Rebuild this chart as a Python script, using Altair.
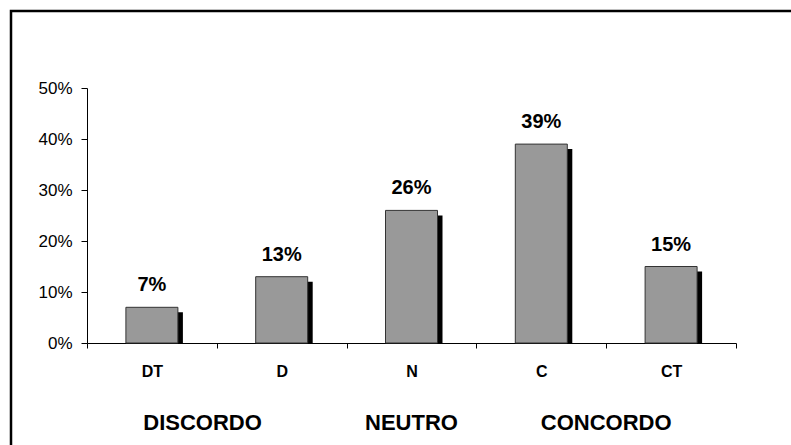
import altair as alt
import pandas as pd

# Response scale and share of answers (%)
categories = ["DT", "D", "N", "C", "CT"]
shares = [7, 13, 26, 39, 15]

# Group captions under the category axis, placed in category units (0..5)
groups = ["DISCORDO", "NEUTRO", "CONCORDO"]
group_pos = [0.89, 2.5, 4.0]

FONT = "Liberation Sans"
W, H = 649, 255
BAR = 52

df = pd.DataFrame({"cat": categories, "pct": [s / 100 for s in shares]})
gdf = pd.DataFrame({"name": groups, "pos": group_pos})
frame_df = pd.DataFrame({"k": [0]})

x = alt.X(
    "cat:N",
    sort=categories,
    scale=alt.Scale(paddingInner=0, paddingOuter=0),
    axis=alt.Axis(
        title=None, labelAngle=0, labelFont=FONT, labelFontSize=16,
        labelFontWeight="bold", labelColor="black", labelPadding=15,
        tickBand="extent", tickSize=5, tickColor="black", domainColor="black",
        tickWidth=1, domainWidth=1,
    ),
)
y = alt.Y(
    "pct:Q",
    scale=alt.Scale(domain=[0, 0.5]),
    axis=alt.Axis(
        title=None, format=".0%", values=[0, 0.1, 0.2, 0.3, 0.4, 0.5], grid=False,
        labelFont=FONT, labelFontSize=17, labelColor="black", labelPadding=9,
        tickSize=6, tickColor="black", domainColor="black",
        tickWidth=1, domainWidth=1,
    ),
)

# drop shadow: offset right and down, clipped at the baseline
shadow = alt.Chart(df).mark_bar(
    color="black", size=BAR, xOffset=5, yOffset=5, clip=True
).encode(x=x, y=y)
bars = alt.Chart(df).mark_bar(
    fill="#999999", stroke="#333333", strokeWidth=1, size=BAR
).encode(x=x, y=y)
values = alt.Chart(df).mark_text(
    font=FONT, fontSize=20, fontWeight="bold", color="black", baseline="alphabetic", dy=-16
).encode(x=x, y=y, text=alt.Text("pct:Q", format=".0%"))

main = alt.layer(shadow, bars, values)

captions = alt.Chart(gdf).mark_text(
    font=FONT, fontSize=22, fontWeight="bold", color="black", baseline="alphabetic"
).encode(
    x=alt.X("pos:Q", scale=alt.Scale(domain=[0, 5]), axis=None),
    y=alt.value(H + 87),
    text="name:N",
)

frame = alt.Chart(frame_df).mark_rect(
    filled=False, stroke="black", strokeWidth=2.5
).encode(
    x=alt.value(-76), x2=alt.value(760), y=alt.value(-77), y2=alt.value(420)
)

chart = (
    alt.layer(main, captions, frame)
    .resolve_scale(x="independent")
    .properties(
        width=W, height=H,
        autosize=alt.AutoSizeParams(type="none"),
        padding={"left": 87, "top": 88, "right": 55, "bottom": 102},
        background="white",
    )
    .configure_view(stroke=None)
)

chart.save("out.html", embed_options={"renderer": "svg", "actions": False})
